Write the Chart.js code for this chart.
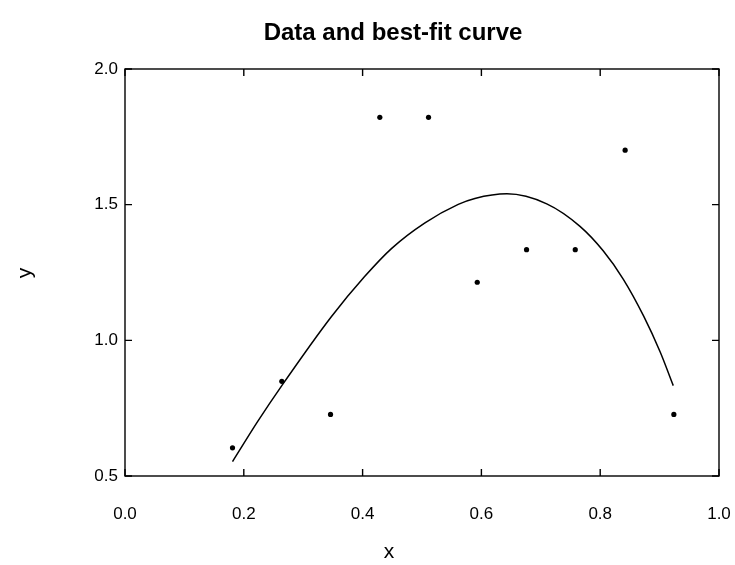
<!DOCTYPE html>
<html>
<head>
<meta charset="utf-8">
<script src="https://cdn.jsdelivr.net/npm/chart.js@4.4.0/dist/chart.umd.min.js"></script>
<style>
	html, body { margin: 0; padding: 0; background: #fff; }
</style>
</head>
<body>
<canvas id="chart" width="735" height="565"></canvas>
<script>
// measured data points
const dataX = [0.181, 0.264, 0.346, 0.429, 0.511, 0.593, 0.676, 0.758, 0.842, 0.924];
const dataY = [0.604, 0.849, 0.727, 1.822, 1.822, 1.214, 1.334, 1.334, 1.701, 0.727];

// best-fit curve
const fitX = [0.181, 0.224, 0.264, 0.347, 0.403, 0.449, 0.505, 0.561, 0.589, 0.643, 0.710, 0.766, 0.805, 0.839, 0.873, 0.901, 0.923];
const fitY = [0.553, 0.703, 0.833, 1.086, 1.234, 1.339, 1.433, 1.501, 1.523, 1.540, 1.503, 1.420, 1.330, 1.225, 1.090, 0.957, 0.833];

const xTicks = [0.0, 0.2, 0.4, 0.6, 0.8, 1.0];
const yTicks = [0.5, 1.0, 1.5, 2.0];

const titleText = "Data and best-fit curve";
const xLabel = "x";
const yLabel = "y";

const FONT = "'Liberation Sans', Arial, Helvetica, sans-serif";

// frame round the plot with inward ticks on all four sides
const framePlugin = {
	id: "frame",
	afterDraw(chart) {
		const { ctx, chartArea: a, scales } = chart;
		const len = 7;
		ctx.save();
		ctx.strokeStyle = "#000";
		ctx.lineWidth = 1.4;
		ctx.strokeRect(a.left, a.top, a.right - a.left, a.bottom - a.top);
		ctx.beginPath();
		xTicks.forEach((v) => {
			const px = scales.x.getPixelForValue(v);
			ctx.moveTo(px, a.bottom); ctx.lineTo(px, a.bottom - len);
			ctx.moveTo(px, a.top); ctx.lineTo(px, a.top + len);
		});
		yTicks.forEach((v) => {
			const py = scales.y.getPixelForValue(v);
			ctx.moveTo(a.left, py); ctx.lineTo(a.left + len, py);
			ctx.moveTo(a.right, py); ctx.lineTo(a.right - len, py);
		});
		ctx.stroke();
		ctx.restore();
	}
};

// title and axis labels
const labelsPlugin = {
	id: "labels",
	afterDraw(chart) {
		const { ctx } = chart;
		ctx.save();
		ctx.fillStyle = "#000";
		ctx.textAlign = "center";
		ctx.textBaseline = "middle";
		ctx.font = "bold 24px " + FONT;
		ctx.fillText(titleText, 393, 33);
		ctx.font = "21px " + FONT;
		ctx.fillText(xLabel, 389, 552);
		ctx.translate(25, 273);
		ctx.rotate(-Math.PI / 2);
		ctx.fillText(yLabel, 0, 0);
		ctx.restore();
	}
};

new Chart(document.getElementById("chart"), {
	type: "scatter",
	data: {
		datasets: [
			{
				label: "data",
				data: dataX.map((x, i) => ({ x: x, y: dataY[i] })),
				pointRadius: 2.6,
				pointBackgroundColor: "#000",
				pointBorderWidth: 0,
				showLine: false
			},
			{
				label: "fit",
				data: fitX.map((x, i) => ({ x: x, y: fitY[i] })),
				showLine: true,
				pointRadius: 0,
				borderColor: "#000",
				borderWidth: 1.5,
				cubicInterpolationMode: "monotone",
				fill: false
			}
		]
	},
	options: {
		responsive: false,
		animation: false,
		layout: { padding: { top: 69, right: 16, left: 0, bottom: 0 } },
		plugins: {
			legend: { display: false },
			tooltip: { enabled: false }
		},
		scales: {
			x: {
				type: "linear",
				min: 0,
				max: 1,
				afterBuildTicks: (scale) => { scale.ticks = xTicks.map((v) => ({ value: v })); },
				afterFit: (scale) => {
					scale.height = 89;
					scale.paddingLeft = 0;
					scale.paddingRight = 0;
				},
				grid: { display: false, drawTicks: false },
				border: { display: false },
				ticks: {
					padding: 28,
					color: "#000",
					font: { family: FONT, size: 17 },
					maxRotation: 0,
					callback: (v) => Number(v).toFixed(1)
				}
			},
			y: {
				type: "linear",
				min: 0.5,
				max: 2.0,
				afterBuildTicks: (scale) => { scale.ticks = yTicks.map((v) => ({ value: v })); },
				afterFit: (scale) => {
					scale.width = 125;
					scale.paddingTop = 0;
					scale.paddingBottom = 0;
				},
				grid: { display: false, drawTicks: false },
				border: { display: false },
				ticks: {
					padding: 7,
					color: "#000",
					font: { family: FONT, size: 17 },
					callback: (v) => Number(v).toFixed(1)
				}
			}
		}
	},
	plugins: [framePlugin, labelsPlugin]
});
</script>
</body>
</html>
